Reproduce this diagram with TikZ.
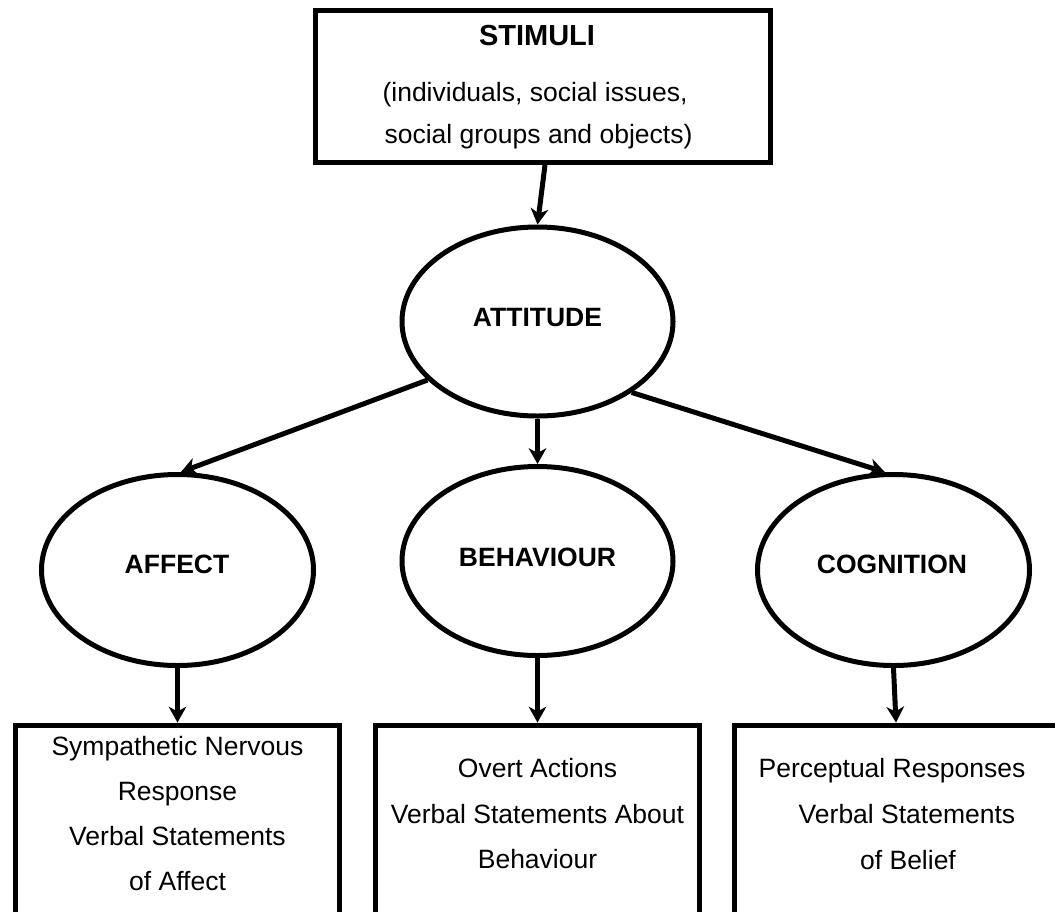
\documentclass[tikz,border=0pt]{standalone}
\usepackage{fontspec}
\setmainfont{Liberation Sans}
\usetikzlibrary{arrows.meta,shapes.geometric}
\begin{document}
\begin{tikzpicture}[x=1pt,y=-1pt,
  line width=5pt,
  boxnode/.style={draw, rectangle, inner sep=0pt, minimum width=324pt, minimum height=260pt},
  ovalnode/.style={draw, ellipse, inner sep=0pt},
  txt/.style={anchor=base, inner sep=0pt, font=\fontsize{26.5}{30}\selectfont},
  btxt/.style={anchor=base, inner sep=0pt, font=\fontsize{26.5}{30}\selectfont\bfseries},
  conn/.style={-{Stealth[length=16pt,width=18pt,inset=5pt,line width=0pt]}, line width=5pt}
]
\useasboundingbox (0,0) rectangle (1055,911);
\clip (0,0) rectangle (1055,911);

% top box
\node[draw, rectangle, inner sep=0pt, minimum width=455pt, minimum height=152pt] (stim) at (543,86.5) {};
\node[anchor=base, inner sep=0pt, font=\fontsize{29}{32}\selectfont\bfseries] (stimt) at (537,45) {STIMULI};
\node[txt] (stimA) at (535,101) {(individuals, social issues,};
\node[txt] (stimB) at (538.5,143) {social groups and objects)};

% ellipses
\node[ovalnode, minimum width=271pt, minimum height=189pt] (att) at (537.5,321.5) {};
\node[ovalnode, minimum width=272pt, minimum height=191pt] (aff) at (177.5,570) {};
\node[ovalnode, minimum width=271pt, minimum height=189pt] (beh) at (537.5,561) {};
\node[ovalnode, minimum width=272pt, minimum height=191pt] (cog) at (893.5,570) {};
\node[btxt] (attt) at (537.5,326) {ATTITUDE};
\node[btxt] (afft) at (177,573) {AFFECT};
\node[btxt] (beht) at (537.5,566) {BEHAVIOUR};
\node[btxt] (cogt) at (892,573) {COGNITION};

% bottom boxes (run past the lower edge)
\node[boxnode] (box1) at (177.5,855) {};
\node[boxnode] (box2) at (537.5,855) {};
\node[boxnode, minimum width=340pt] (box3) at (904.5,855) {};

\node[txt] (b1a) at (177.5,755) {Sympathetic Nervous};
\node[txt] (b1b) at (177.5,800) {Response};
\node[txt] (b1c) at (177.5,845) {Verbal Statements};
\node[txt] (b1d) at (177.5,890) {of Affect};

\node[txt] (b2a) at (537.5,777) {Overt Actions};
\node[txt] (b2b) at (537.5,823) {Verbal Statements About};
\node[txt] (b2c) at (537.5,868) {Behaviour};

\node[txt] (b3a) at (892,777) {Perceptual Responses};
\node[txt] (b3b) at (907,823) {Verbal Statements};
\node[txt] (b3c) at (908,869) {of Belief};

% connectors
\draw[conn] ([xshift=2pt]stim.south) -- (att.north);
\draw[conn] (att.208) -- (aff.88.5);
\draw[conn] (att.south) -- (beh.north);
\draw[conn] (att.-37) -- (cog.95);
\draw[conn] (aff.south) -- (box1.north);
\draw[conn] (beh.south) -- (box2.north);
\draw[conn] (cog.south) -- ([xshift=-8.5pt]box3.north);
\end{tikzpicture}
\end{document}
